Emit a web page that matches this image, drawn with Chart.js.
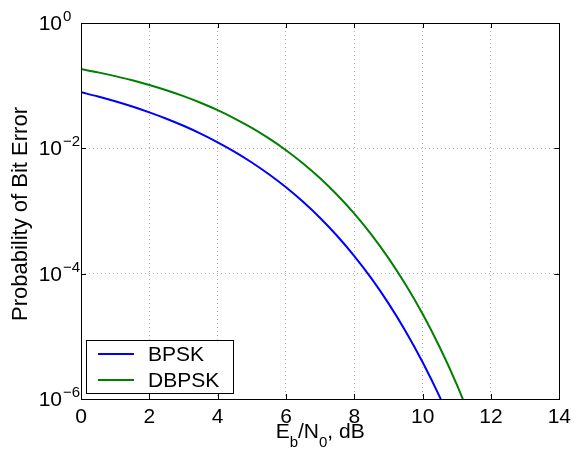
<!DOCTYPE html>
<html>
<head>
<meta charset="utf-8">
<script src="https://cdn.jsdelivr.net/npm/chart.js@4"></script>
<style>
  body { margin: 0; background: #fff; }
  #wrap { width: 577px; height: 455px; }
</style>
</head>
<body>
<div id="wrap"><canvas id="ber" width="577" height="455"></canvas></div>
<script>
// Eb/N0 in dB
const ebno = [0, 0.5, 1, 1.5, 2, 2.5, 3, 3.5, 4, 4.5, 5, 5.5, 6, 6.5, 7, 7.5, 8, 8.5, 9, 9.5, 10, 10.5, 11, 11.5];
const bpsk = [0.0786, 0.0671, 0.0563, 0.0464, 0.0375, 0.0297, 0.0229, 0.0172, 0.0125, 0.0088, 0.00595, 0.00386,
  0.00239, 0.0014, 7.73e-4, 3.99e-4, 1.91e-4, 8.4e-5, 3.36e-5, 1.21e-5, 3.87e-6, 1.08e-6, 2.6e-7];
const dbpsk = [0.184, 0.163, 0.142, 0.122, 0.1025, 0.0845, 0.068, 0.0533, 0.0406, 0.0299, 0.0212, 0.0144,
  0.00934, 0.00574, 0.00333, 0.0018, 9.1e-4, 4.2e-4, 1.77e-4, 6.7e-5, 2.27e-5, 6.7e-6, 1.7e-6, 3.6e-7];
const yTicks = [1e-6, 1e-4, 1e-2, 1];
const yTickExp = ['\u22126', '\u22124', '\u22122', '0'];

const FONT = "'Liberation Sans', Arial, Helvetica, sans-serif";

const toPts = vals => vals.map((v, i) => ({ x: ebno[i], y: v }));

// frame, inward ticks, log tick labels, axis titles and the boxed legend
const decor = {
  id: 'decor',
  afterDraw(chart) {
    const ctx = chart.ctx;
    const a = chart.chartArea;
    const xs = chart.scales.x, ys = chart.scales.y;
    ctx.save();
    ctx.strokeStyle = '#000';
    ctx.lineWidth = 1;
    ctx.strokeRect(Math.round(a.left) + 0.5, Math.round(a.top) + 0.5,
      Math.round(a.right - a.left), Math.round(a.bottom - a.top));
    ctx.beginPath();
    xs.ticks.forEach(t => {
      const px = Math.round(xs.getPixelForValue(t.value)) + 0.5;
      ctx.moveTo(px, a.top); ctx.lineTo(px, a.top + 5);
      ctx.moveTo(px, a.bottom); ctx.lineTo(px, a.bottom - 5);
    });
    ys.ticks.forEach(t => {
      const py = Math.round(ys.getPixelForValue(t.value)) + 0.5;
      ctx.moveTo(a.left, py); ctx.lineTo(a.left + 5, py);
      ctx.moveTo(a.right, py); ctx.lineTo(a.right - 5, py);
    });
    ctx.stroke();

    // y tick labels 10^n
    ctx.fillStyle = '#000';
    ys.ticks.forEach(t => {
      const py = ys.getPixelForValue(t.value);
      const k = yTicks.indexOf(t.value);
      ctx.font = '21px ' + FONT;
      ctx.textAlign = 'right';
      ctx.textBaseline = 'alphabetic';
      ctx.fillText('10', a.left - 19, py + 7);
      ctx.font = '15px ' + FONT;
      ctx.textAlign = 'left';
      ctx.fillText(yTickExp[k], a.left - 18, py - 2);
    });

    // y title
    ctx.save();
    ctx.translate(27, (a.top + a.bottom) / 2 + 3);
    ctx.rotate(-Math.PI / 2);
    ctx.font = '22px ' + FONT;
    ctx.textAlign = 'center';
    ctx.textBaseline = 'alphabetic';
    ctx.fillText('Probability of Bit Error', 0, 0);
    ctx.restore();

    // x title E_b/N_0, dB
    const parts = [['E', 0], ['b', 1], ['/N', 0], ['0', 1], [', dB', 0]];
    const big = '21px ' + FONT, small = '15px ' + FONT;
    let total = 0;
    parts.forEach(p => { ctx.font = p[1] ? small : big; total += ctx.measureText(p[0]).width; });
    let cx = (a.left + a.right) / 2 - total / 2;
    ctx.textAlign = 'left';
    ctx.textBaseline = 'alphabetic';
    parts.forEach(p => {
      ctx.font = p[1] ? small : big;
      ctx.fillText(p[0], cx, p[1] ? 447 : 438);
      cx += ctx.measureText(p[0]).width;
    });

    // legend
    const lx = a.left + 5, lyb = a.bottom - 6;
    const lw = 147, lh = 53;
    ctx.fillStyle = '#fff';
    ctx.fillRect(lx, lyb - lh, lw, lh);
    ctx.strokeStyle = '#000';
    ctx.strokeRect(Math.round(lx) + 0.5, Math.round(lyb - lh) + 0.5, lw, lh);
    chart.data.datasets.forEach((ds, i) => {
      const yy = lyb - lh + 14 + i * 26;
      ctx.strokeStyle = ds.borderColor;
      ctx.lineWidth = 2;
      ctx.beginPath();
      ctx.moveTo(lx + 12, yy); ctx.lineTo(lx + 48, yy);
      ctx.stroke();
      ctx.fillStyle = '#000';
      ctx.font = '21px ' + FONT;
      ctx.textBaseline = 'middle';
      ctx.fillText(ds.label, lx + 62, yy + 1);
    });
    ctx.restore();
  }
};

new Chart(document.getElementById('ber'), {
  type: 'line',
  data: {
    datasets: [
      { label: 'BPSK', data: toPts(bpsk), borderColor: '#0000ff', borderWidth: 2, pointRadius: 0,
        cubicInterpolationMode: 'monotone', fill: false },
      { label: 'DBPSK', data: toPts(dbpsk), borderColor: '#008000', borderWidth: 2, pointRadius: 0,
        cubicInterpolationMode: 'monotone', fill: false }
    ]
  },
  options: {
    responsive: false,
    animation: false,
    layout: { padding: { left: 0, right: 13, top: 23, bottom: 0 } },
    plugins: { legend: { display: false }, tooltip: { enabled: false } },
    scales: {
      x: {
        type: 'linear', min: 0, max: 14,
        afterFit: s => { s.height = 56; },
        ticks: { stepSize: 2, color: '#000', font: { family: FONT, size: 21 }, padding: 6, maxRotation: 0 },
        grid: { color: '#b4b4b4', drawTicks: false },
        border: { display: false, dash: [1, 3] }
      },
      y: {
        type: 'logarithmic', min: 1e-6, max: 1,
        afterBuildTicks: s => { s.ticks = yTicks.map(v => ({ value: v })); },
        afterFit: s => { s.width = 81; },
        ticks: { callback: () => '' },
        grid: { color: '#b4b4b4', drawTicks: false },
        border: { display: false, dash: [1, 3] }
      }
    }
  },
  plugins: [decor]
});
</script>
</body>
</html>
